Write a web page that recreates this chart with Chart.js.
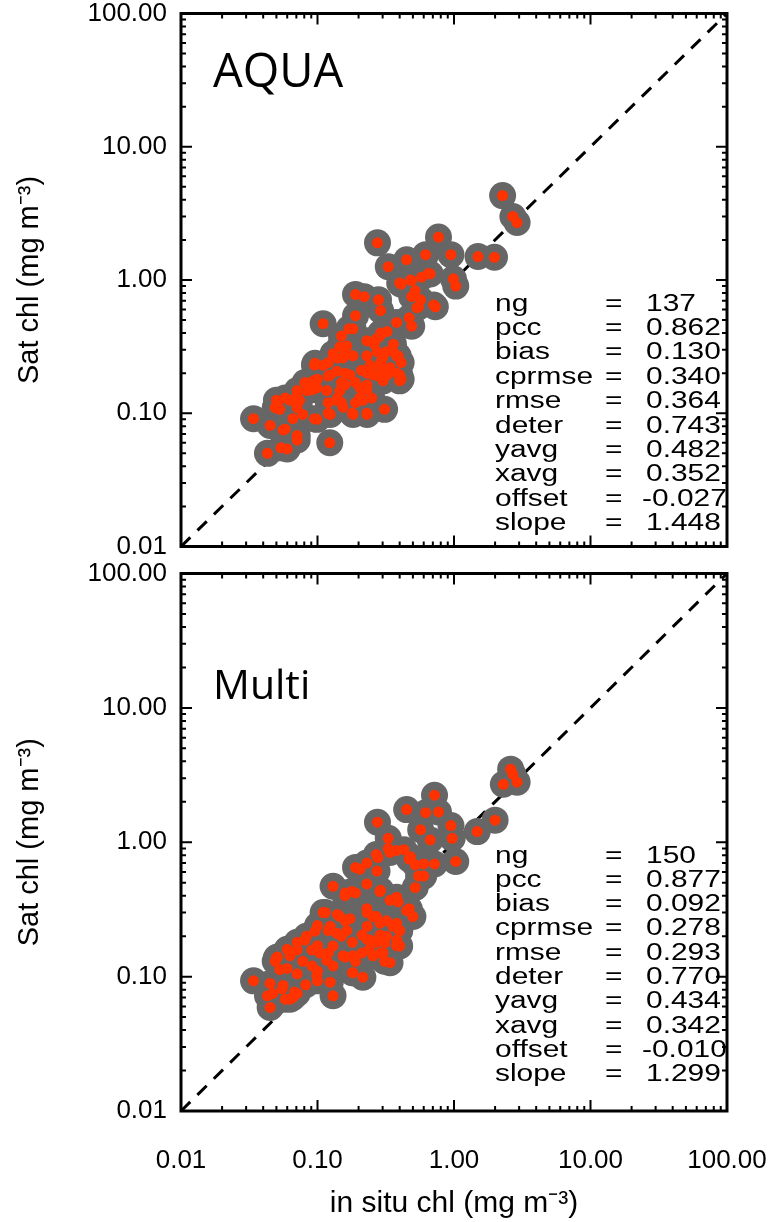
<!DOCTYPE html>
<html>
<head>
<meta charset="utf-8">
<script src="https://cdn.jsdelivr.net/npm/chart.js@4.4.1/dist/chart.umd.min.js"></script>
<style>
  html, body { margin: 0; padding: 0; background: #fff; }
  #wrap { position: relative; width: 777px; height: 1222px; }
  canvas { position: absolute; left: 0; }
  #aqua { top: 0; }
  #multi { top: 560px; }
</style>
</head>
<body>
<div id="wrap">
  <canvas id="aqua" width="777" height="560"></canvas>
  <canvas id="multi" width="777" height="662"></canvas>
</div>
<script>
// log axis labels, both axes
var ticksAt = [0.01, 0.1, 1, 10, 100];

var statNames = ['ng', 'pcc', 'bias', 'cprmse', 'rmse', 'deter', 'yavg', 'xavg', 'offset', 'slope'];
var aquaStats = ['137', '0.862', '0.130', '0.340', '0.364', '0.743', '0.482', '0.352', '-0.027', '1.448'];
var multiStats = ['150', '0.877', '0.092', '0.278', '0.293', '0.770', '0.434', '0.342', '-0.010', '1.299'];

// AQUA matchups: in situ chl (x) vs satellite chl (y)
var aquaX = [2.27, 2.7, 2.9, 0.77, 0.275, 0.95, 1.5, 1.98, 0.62, 0.45, 0.33, 0.67, 0.58, 0.99, 1.03, 0.49, 0.41,
  0.19, 0.22, 0.28, 0.29, 0.52, 0.57, 0.71, 0.55, 0.49, 0.19, 0.11, 0.38, 0.49, 0.47, 0.29, 0.27, 0.23, 0.17,
  0.15, 0.23, 0.16, 0.32, 0.38, 0.41, 0.14, 0.12, 0.095, 0.29, 0.23, 0.28, 0.38, 0.41, 0.16, 0.19, 0.15, 0.12,
  0.10, 0.081, 0.091, 0.071, 0.058, 0.051, 0.049, 0.23, 0.25, 0.19, 0.14, 0.15, 0.31, 0.23, 0.18, 0.12, 0.12,
  0.071, 0.066, 0.078, 0.095, 0.034, 0.045, 0.058, 0.071, 0.123, 0.043, 0.054, 0.060,
  0.40, 0.48, 0.65, 0.182, 0.287, 0.323, 0.273, 0.164, 0.146, 0.13, 0.154, 0.182, 0.357, 0.39, 0.096, 0.11,
  0.124, 0.139, 0.173, 0.159, 0.146, 0.243, 0.287, 0.255, 0.231, 0.302, 0.323, 0.40, 0.40, 0.093, 0.099,
  0.084, 0.117, 0.071, 0.063, 0.074, 0.205, 0.205, 0.215, 0.182, 0.231, 0.139, 0.124, 0.154, 0.099, 0.050,
  0.053, 0.071, 0.535, 0.73, 0.056, 0.26, 0.34, 0.21, 0.30, 0.36];
var aquaY = [4.3, 3.0, 2.7, 2.1, 1.9, 1.55, 1.5, 1.48, 1.55, 1.42, 1.26, 1.11, 1.05, 1.02, 0.90, 0.99, 0.93,
  0.78, 0.75, 0.71, 0.59, 0.83, 0.71, 0.65, 0.63, 0.75, 0.54, 0.47, 0.48, 0.45, 0.52, 0.40, 0.36, 0.35, 0.43,
  0.38, 0.27, 0.29, 0.29, 0.27, 0.24, 0.26, 0.24, 0.23, 0.24, 0.20, 0.19, 0.20, 0.18, 0.20, 0.17, 0.17, 0.19,
  0.18, 0.17, 0.15, 0.14, 0.13, 0.12, 0.11, 0.15, 0.13, 0.12, 0.13, 0.12, 0.107, 0.10, 0.10, 0.12, 0.10,
  0.11, 0.091, 0.098, 0.091, 0.091, 0.081, 0.076, 0.068, 0.060, 0.050, 0.055, 0.054,
  0.95, 1.0, 1.12, 0.43, 0.38, 0.41, 0.29, 0.32, 0.316, 0.28, 0.26, 0.27, 0.29, 0.27, 0.237, 0.229,
  0.194, 0.207, 0.194, 0.163, 0.148, 0.229, 0.218, 0.194, 0.163, 0.175, 0.194, 0.194, 0.175, 0.175, 0.155,
  0.148, 0.148, 0.148, 0.125, 0.125, 0.155, 0.131, 0.125, 0.098, 0.098, 0.125, 0.098, 0.111, 0.090, 0.125,
  0.107, 0.063, 0.62, 0.63, 0.075, 0.33, 0.22, 0.21, 0.26, 0.33];

// Multi-sensor matchups
var multiX = [2.6, 2.7, 2.9, 2.3, 0.72, 0.45, 0.62, 0.77, 0.275, 2.0, 1.48, 0.95, 0.97, 0.57, 0.67, 0.33, 0.33,
  0.38, 0.43, 0.27, 0.23, 0.19, 0.47, 0.52, 0.60, 0.72, 1.03, 0.55, 0.60, 0.52, 0.23, 0.29, 0.38, 0.13, 0.16,
  0.19, 0.47, 0.11, 0.14, 0.16, 0.23, 0.27, 0.32, 0.38, 0.40, 0.10, 0.083, 0.071, 0.060, 0.051, 0.12, 0.15,
  0.18, 0.23, 0.27, 0.32, 0.10, 0.12, 0.16, 0.19, 0.24, 0.29, 0.38, 0.078, 0.091, 0.13, 0.18, 0.31, 0.049,
  0.060, 0.071, 0.10, 0.034, 0.045, 0.055, 0.047, 0.071, 0.066, 0.058, 0.043, 0.045, 0.13, 0.10, 0.082,
  0.34, 0.48, 0.205, 0.277, 0.273, 0.159, 0.179, 0.287, 0.34, 0.39, 0.45, 0.50, 0.114, 0.146, 0.173, 0.231,
  0.255, 0.231, 0.287, 0.357, 0.40, 0.096, 0.124, 0.139, 0.164, 0.212, 0.243, 0.287, 0.312, 0.382, 0.40,
  0.081, 0.071, 0.063, 0.050, 0.091, 0.104, 0.13, 0.154, 0.117, 0.182, 0.212, 0.255, 0.302, 0.34, 0.182,
  0.215, 0.099, 0.124, 0.053, 0.056, 0.068, 0.063];
var multiY = [3.5, 3.2, 2.8, 2.7, 2.24, 1.75, 1.66, 1.68, 1.41, 1.46, 1.2, 1.33, 1.07, 1.24, 1.04, 1.07, 0.90,
  0.87, 0.88, 0.81, 0.70, 0.65, 0.75, 0.68, 0.69, 0.69, 0.72, 0.56, 0.56, 0.46, 0.49, 0.44, 0.39, 0.47, 0.42,
  0.42, 0.32, 0.30, 0.29, 0.26, 0.32, 0.28, 0.26, 0.25, 0.22, 0.24, 0.20, 0.18, 0.16, 0.14, 0.22, 0.20,
  0.18, 0.19, 0.18, 0.20, 0.17, 0.15, 0.14, 0.13, 0.16, 0.15, 0.17, 0.13, 0.12, 0.12, 0.107, 0.13, 0.13,
  0.115, 0.105, 0.11, 0.093, 0.089, 0.081, 0.075, 0.075, 0.070, 0.068, 0.072, 0.059, 0.072, 0.093, 0.087,
  0.84, 0.78, 0.63, 0.77, 0.61, 0.40, 0.43, 0.43, 0.37, 0.36, 0.31, 0.28, 0.30, 0.28, 0.27, 0.30,
  0.28, 0.237, 0.25, 0.237, 0.22, 0.218, 0.237, 0.21, 0.22, 0.204, 0.187, 0.204, 0.178, 0.187, 0.169,
  0.187, 0.158, 0.143, 0.138, 0.158, 0.150, 0.169, 0.143, 0.132, 0.143, 0.150, 0.143, 0.150, 0.127, 0.107,
  0.099, 0.102, 0.091, 0.113, 0.086, 0.077, 0.068];

function toPoints(xs, ys) {
  var pts = [];
  for (var i = 0; i < xs.length; i++) pts.push({x: xs[i], y: ys[i]});
  return pts;
}

// inward ticks on all four sides and the heavy box
function drawFrame(chart) {
  var ctx = chart.ctx, a = chart.chartArea;
  var sx = chart.scales.x, sy = chart.scales.y;
  ctx.save();
  ctx.strokeStyle = '#000';
  ctx.lineWidth = 2;
  ctx.beginPath();
  for (var e = -2; e <= 2; e++) {
    for (var k = 1; k <= 9; k++) {
      var v = k * Math.pow(10, e);
      if (v > 100.001) break;
      var len = k === 1 ? 11 : 5;
      var px = sx.getPixelForValue(v), py = sy.getPixelForValue(v);
      ctx.moveTo(px, a.bottom); ctx.lineTo(px, a.bottom - len);
      ctx.moveTo(px, a.top); ctx.lineTo(px, a.top + len);
      ctx.moveTo(a.left, py); ctx.lineTo(a.left + len, py);
      ctx.moveTo(a.right, py); ctx.lineTo(a.right - len, py);
    }
  }
  ctx.stroke();
  ctx.lineWidth = 3;
  ctx.strokeRect(a.left, a.top, a.right - a.left, a.bottom - a.top);
  ctx.restore();
}

function drawText(chart, cfg) {
  var ctx = chart.ctx, a = chart.chartArea;
  ctx.save();
  ctx.fillStyle = '#000';
  ctx.textBaseline = 'alphabetic';
  ctx.font = cfg.labelSize + 'px "Open Sans"';
  ctx.fillText(cfg.label, a.left + 32, a.top + cfg.labelY);

  ctx.font = '23px "Liberation Sans"';
  for (var i = 0; i < statNames.length; i++) {
    var y = a.top + cfg.rowTop + i * cfg.rowStep;
    var cols = [[statNames[i], a.right - 232], ['=', a.right - 122], [cfg.stats[i], a.right - 81]];
    for (var j = 0; j < cols.length; j++) {
      var x = cols[j][1];
      if (j === 2 && cols[j][0].charAt(0) === '-') x -= 4;
      ctx.save();
      ctx.translate(x, y);
      ctx.scale(1.3, 1);
      ctx.fillText(cols[j][0], 0, 0);
      ctx.restore();
    }
  }
  ctx.restore();
}

function noEdgePadding(scale) {
  scale.paddingTop = 0;
  scale.paddingBottom = 0;
  scale.paddingLeft = 0;
  scale.paddingRight = 0;
}

function makePanel(id, xs, ys, cfg) {
  var pts = toPoints(xs, ys);
  return new Chart(document.getElementById(id), {
    type: 'scatter',
    data: {
      datasets: [
        {
          data: pts,
          backgroundColor: '#ff3300',
          borderWidth: 0,
          pointRadius: 5.5,
          order: 0
        },
        {
          data: pts,
          backgroundColor: '#666666',
          borderWidth: 0,
          pointRadius: 13.5,
          order: 1
        },
        {
          data: [{x: 0.01, y: 0.01}, {x: 100, y: 100}],
          showLine: true,
          borderColor: '#000',
          borderWidth: 3,
          borderDash: [13, 10],
          pointRadius: 0,
          order: 2
        }
      ]
    },
    options: {
      responsive: false,
      animation: false,
      events: [],
      layout: { padding: { left: 0, right: 50, top: cfg.padTop, bottom: 0 } },
      plugins: { legend: { display: false }, tooltip: { enabled: false } },
      scales: {
        x: {
          type: 'logarithmic',
          min: 0.01,
          max: 100,
          grid: { display: false, drawTicks: false },
          border: { display: false },
          afterBuildTicks: function(scale) {
            scale.ticks = ticksAt.map(function(v) { return {value: v}; });
          },
          afterFit: function(scale) {
            scale.height = cfg.xHeight;
            noEdgePadding(scale);
          },
          ticks: {
            display: cfg.showX,
            autoSkip: false,
            maxRotation: 0,
            padding: 34,
            color: '#000',
            font: { family: 'Liberation Sans', size: 26 },
            callback: function(v) { return Number(v).toFixed(2); }
          },
          title: {
            display: cfg.showX,
            text: 'in situ chl (mg m⁻³)',
            color: '#000',
            font: { family: 'Liberation Sans', size: 30 },
            padding: { top: 0, bottom: 0 }
          }
        },
        y: {
          type: 'logarithmic',
          min: 0.01,
          max: 100,
          grid: { display: false, drawTicks: false },
          border: { display: false },
          afterBuildTicks: function(scale) {
            scale.ticks = ticksAt.map(function(v) { return {value: v}; });
          },
          afterFit: function(scale) {
            scale.width = 181;
            noEdgePadding(scale);
          },
          ticks: {
            autoSkip: false,
            padding: 14,
            color: '#000',
            font: { family: 'Liberation Sans', size: 26 },
            callback: function(v) { return Number(v).toFixed(2); }
          },
          title: {
            display: true,
            text: 'Sat chl (mg m⁻³)',
            color: '#000',
            font: { family: 'Liberation Sans', size: 29 },
            padding: { top: 13, bottom: 0 }
          }
        }
      }
    },
    plugins: [{
      id: 'panelDecor',
      afterDatasetsDraw: function(chart) { drawFrame(chart); },
      afterDraw: function(chart) { drawText(chart, cfg); }
    }]
  });
}

makePanel('aqua', aquaX, aquaY, {
  label: 'AQUA', labelSize: 47, labelY: 73,
  stats: aquaStats, rowTop: 297, rowStep: 24.4,
  padTop: 8, xHeight: 8, showX: false
});

makePanel('multi', multiX, multiY, {
  label: 'Multi', labelSize: 41, labelY: 125,
  stats: multiStats, rowTop: 289, rowStep: 24.3,
  padTop: 4, xHeight: 111, showX: true
});
</script>
</body>
</html>
